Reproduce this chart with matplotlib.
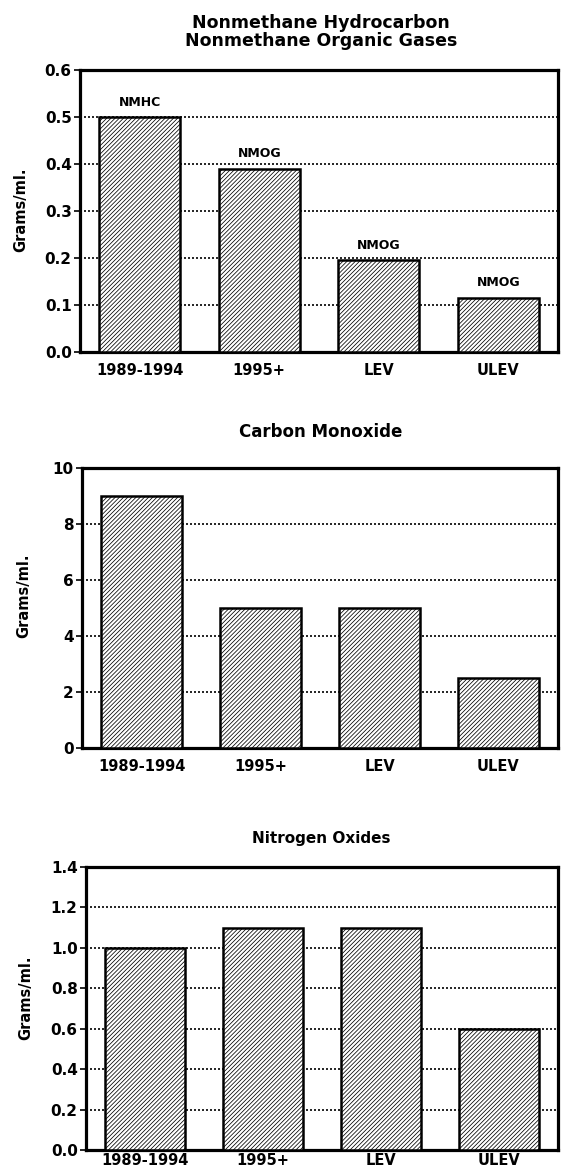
import numpy as np
import matplotlib
matplotlib.use('Agg')
import matplotlib.pyplot as plt

plt.rcParams['font.family'] = ['DejaVu Sans']
plt.rcParams['font.weight'] = 'bold'
plt.rcParams['hatch.linewidth'] = 0.55

categories = ['1989-1994', '1995+', 'LEV', 'ULEV']

# nonmethane hydrocarbon / organic gases
hc_values = [0.5, 0.39, 0.195, 0.115]
hc_labels = ['NMHC', 'NMOG', 'NMOG', 'NMOG']
hc_ticks = [0.0, 0.1, 0.2, 0.3, 0.4, 0.5, 0.6]

# carbon monoxide
co_values = [9.0, 5.0, 5.0, 2.5]
co_ticks = [0, 2, 4, 6, 8, 10]

# nitrogen oxides
nox_values = [1.0, 1.1, 1.1, 0.6]
nox_ticks = [0.0, 0.2, 0.4, 0.6, 0.8, 1.0, 1.2, 1.4]

W, H = 561, 1173
fig = plt.figure(figsize=(W / 100, H / 100), dpi=100)


def draw_panel(rect, values, ticks, fmt, xpad, ylab_xy, labels=None):
    ax = fig.add_axes(rect)
    x = np.arange(len(categories))
    ax.bar(x, values, width=0.68, color='white', edgecolor='black',
           linewidth=1.8, hatch='////////', zorder=3)
    for t in ticks[1:-1]:
        ax.axhline(t, color='black', linestyle=(0, (1.2, 1.2)), linewidth=1.2, zorder=1)
    ax.set_xlim(-0.5, 3.5)
    ax.set_ylim(ticks[0], ticks[-1])
    ax.set_yticks(ticks)
    ax.set_yticklabels([fmt.format(t) for t in ticks], fontsize=11, fontweight='bold')
    ax.set_xticks(x)
    ax.set_xticklabels(categories, fontsize=10.5, fontweight='bold')
    ax.tick_params(axis='x', length=0, pad=xpad)
    ax.tick_params(axis='y', length=4, width=1.2, pad=2)
    for s in ax.spines.values():
        s.set_linewidth(2.3)
    fig.text(ylab_xy[0] / W, 1 - ylab_xy[1] / H, 'Grams/ml.', rotation=90,
             ha='center', va='center', fontsize=10.5, fontweight='bold')
    if labels is not None:
        span = ticks[-1] - ticks[0]
        for xi, v, lab in zip(x, values, labels):
            ax.text(xi, v + span * 0.03, lab, ha='center', va='bottom',
                    fontsize=9, fontweight='bold')
    return ax


draw_panel([80 / W, 1 - 352 / H, 478 / W, 282 / H], hc_values, hc_ticks, '{:.1f}',
           8, (21, 210), hc_labels)
draw_panel([82 / W, 1 - 748 / H, 476 / W, 280 / H], co_values, co_ticks, '{:d}',
           8, (24, 596))
draw_panel([86 / W, 1 - 1150 / H, 472 / W, 283 / H], nox_values, nox_ticks, '{:.1f}',
           2, (26, 998))

fig.text(321 / W, 1 - 32 / H, 'Nonmethane Hydrocarbon\nNonmethane Organic Gases',
         ha='center', va='center', fontsize=12.5, fontweight='bold', linespacing=1.05)
fig.text(321 / W, 1 - 432 / H, 'Carbon Monoxide', ha='center', va='center',
         fontsize=12, fontweight='bold')
fig.text(321 / W, 1 - 838 / H, 'Nitrogen Oxides', ha='center', va='center',
         fontsize=11, fontweight='bold')

fig.savefig('out.png', dpi=100)
